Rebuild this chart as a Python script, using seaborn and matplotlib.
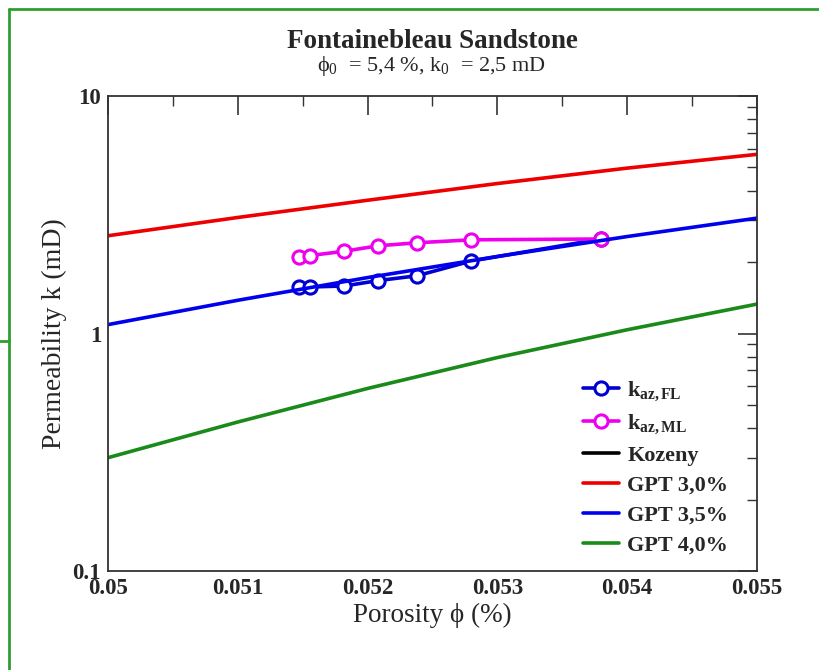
import matplotlib
matplotlib.use("Agg")
import matplotlib.pyplot as plt
from matplotlib.lines import Line2D
from matplotlib.ticker import FixedLocator, NullFormatter, LogLocator
import seaborn as sns
import numpy as np

# ---- data ----
phi_grid = [0.050, 0.051, 0.052, 0.053, 0.054, 0.055]
k_gpt30 = [2.58, 3.08, 3.64, 4.28, 4.97, 5.68]
k_gpt35 = [1.09, 1.38, 1.72, 2.11, 2.56, 3.06]
k_gpt40 = [0.300, 0.424, 0.587, 0.792, 1.037, 1.33]

phi_meas = [0.05147, 0.05156, 0.05182, 0.05208, 0.05238, 0.05280, 0.05380]
k_az_fl = [1.565, 1.57, 1.585, 1.67, 1.75, 2.02, 2.50]
k_az_ml = [2.10, 2.13, 2.22, 2.34, 2.41, 2.48, 2.50]

x_ticks = [0.050, 0.051, 0.052, 0.053, 0.054, 0.055]
x_ticklabels = ["0.05", "0.051", "0.052", "0.053", "0.054", "0.055"]
y_ticks = [0.1, 1, 10]
y_ticklabels = ["0.1", "1", "10"]

sns.set_style("white")
plt.rcParams['font.family'] = ['Liberation Serif', 'DejaVu Serif']
plt.rcParams['mathtext.fontset'] = 'custom'
plt.rcParams['mathtext.rm'] = 'Liberation Serif'
plt.rcParams['mathtext.it'] = 'Liberation Serif:italic'
plt.rcParams['mathtext.bf'] = 'Liberation Serif:bold'

fig = plt.figure(figsize=(8.2, 6.7), dpi=100)
ax = fig.add_axes([108/820, 1-571/670, (757-108)/820, (571-96)/670])

lw = 2.6
mk = dict(marker='o', markersize=9.5, markerfacecolor='white', markeredgewidth=2.2)

sns.lineplot(x=phi_meas, y=k_az_fl, ax=ax, color='#0000d0', linewidth=lw,
             markeredgecolor='#0000d0', label=r"k$_{\bf az,FL}$", sort=False, **mk)
sns.lineplot(x=phi_meas, y=k_az_ml, ax=ax, color='#ee00ee', linewidth=lw,
             markeredgecolor='#ee00ee', label=r"k$_{\bf az,ML}$", sort=False, **mk)
ax.plot([], [], color='black', linewidth=lw, label='Kozeny')
sns.lineplot(x=phi_grid, y=k_gpt30, ax=ax, color='#ee0000', linewidth=lw, label='GPT 3,0%')
sns.lineplot(x=phi_grid, y=k_gpt35, ax=ax, color='#0000ee', linewidth=lw, label='GPT 3,5%')
sns.lineplot(x=phi_grid, y=k_gpt40, ax=ax, color='#1a8a1a', linewidth=lw, label='GPT 4,0%')

ax.set_yscale('log')
ax.set_xlim(0.050, 0.055)
ax.set_ylim(0.1, 10)

ax.xaxis.set_major_locator(FixedLocator(x_ticks))
ax.set_xticklabels(x_ticklabels)
ax.xaxis.set_minor_locator(FixedLocator([0.0505, 0.0515, 0.0525, 0.0535, 0.0545]))
ax.yaxis.set_major_locator(FixedLocator(y_ticks))
ax.set_yticklabels(y_ticklabels)
ax.yaxis.set_minor_locator(LogLocator(base=10, subs=np.arange(2, 10)))
ax.yaxis.set_minor_formatter(NullFormatter())

ax.tick_params(which='both', direction='in', top=True, right=True, color='#333333')
ax.tick_params(which='major', length=14, width=1.2, labelsize=16.5, pad=5)
ax.tick_params(which='minor', length=7, width=1.0)
for lab in ax.get_xticklabels() + ax.get_yticklabels():
    lab.set_fontweight('bold')
for s in ax.spines.values():
    s.set_color('#333333')
    s.set_linewidth(1.3)

ax.set_xlabel("Porosity ϕ (%)", fontsize=19.5, labelpad=3)
ax.set_ylabel("Permeability k (mD)", fontsize=20)
ax.yaxis.set_label_coords(-(108-67)/649, 0.5)

fig.text(432/820, 1-42/670, "Fontainebleau Sandstone", ha='center', va='center',
         fontsize=19.5, fontweight='bold')
fig.text(432/820, 1-66/670, r"ϕ$_0$  = 5,4 %, k$_0$  = 2,5 mD", ha='center', va='center',
         fontsize=16)

leg = ax.legend(loc='lower right', bbox_to_anchor=(0.98, 0.0), frameon=False,
                prop={'weight': 'bold', 'size': 16}, handlelength=1.6,
                handletextpad=0.4, labelspacing=0.42, borderaxespad=0.3)

# green frame
gc = '#2e9e2e'
fig.add_artist(Line2D([9/820, 1.0], [1-9/670, 1-9/670], color=gc, linewidth=2, transform=fig.transFigure))
fig.add_artist(Line2D([9/820, 9/820], [0, 1-9/670], color=gc, linewidth=2, transform=fig.transFigure))
fig.add_artist(Line2D([0, 9/820], [1-341/670, 1-341/670], color=gc, linewidth=2, transform=fig.transFigure))

fig.savefig("out.png", dpi=100)
